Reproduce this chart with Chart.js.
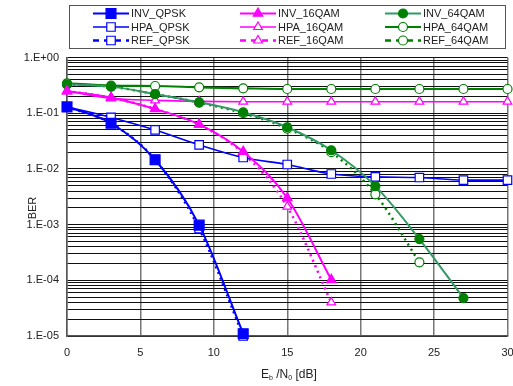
<!DOCTYPE html>
<html>
<head>
<meta charset="utf-8">
<script src="https://cdn.jsdelivr.net/npm/chart.js@4.4.0/dist/chart.umd.min.js"></script>
<style>
html, body { margin: 0; padding: 0; background: #fff; }
#wrap { width: 513px; height: 386px; }
</style>
</head>
<body>
<div id="wrap"><canvas id="berChart"></canvas></div>
<script>
// Eb/N0 grid (dB) and BER
const ebn0 = [0, 3, 6, 9, 12, 15, 18, 21, 24, 27, 30];
const invQpsk = [0.13, 0.066, 0.0146, 0.00098, 0.000011];
const hpaQpsk = [0.13, 0.084, 0.050, 0.027, 0.016, 0.012, 0.0081, 0.0072, 0.0070, 0.0063, 0.0063];
const refQpsk = [0.13, 0.066, 0.0146, 0.00085, 0.00001];
const inv16qam = [0.25, 0.19, 0.119, 0.063, 0.0204, 0.0030, 0.000102];
const hpa16qam = [0.25, 0.185, 0.17, 0.163, 0.161, 0.161, 0.161, 0.161, 0.161, 0.161, 0.161];
const ref16qam = [0.25, 0.19, 0.119, 0.062, 0.019, 0.0021, 0.00004];
const inv64qam = [0.33, 0.30, 0.22, 0.157, 0.104, 0.056, 0.0216, 0.0049, 0.00055, 0.000048];
const hpa64qam = [0.344, 0.312, 0.308, 0.292, 0.28, 0.272, 0.272, 0.272, 0.272, 0.272, 0.272];
const ref64qam = [0.33, 0.30, 0.22, 0.155, 0.10, 0.053, 0.020, 0.0035, 0.00021];
const xTicks = [0, 5, 10, 15, 20, 25, 30];

const FONT = '"Liberation Sans", Arial, sans-serif';
const BLUE = '#0000ff', PINK = '#ff00ff', GREEN = '#008000', SEA = '#339966';

function pts(vals) {
    return vals.map((v, i) => ({ x: ebn0[i], y: v }));
}

function series(label, vals, color, opts) {
    return Object.assign({
        label: label,
        data: pts(vals),
        borderColor: color,
        backgroundColor: color,
        pointBorderColor: color,
        pointBackgroundColor: color,
        borderWidth: 2,
        pointBorderWidth: 1.2,
        cubicInterpolationMode: 'monotone',
        clip: 8,
        fill: false
    }, opts);
}

const datasets = [
    series('INV_QPSK', invQpsk, BLUE, { pointStyle: 'rect', pointRadius: 7 }),
    series('INV_16QAM', inv16qam, PINK, { pointStyle: 'triangle', pointRadius: 5.5 }),
    series('INV_64QAM', inv64qam, SEA, { pointStyle: 'circle', pointRadius: 4.5, pointBorderColor: GREEN, pointBackgroundColor: GREEN }),
    series('HPA_QPSK', hpaQpsk, BLUE, { pointStyle: 'rect', pointRadius: 6, pointBackgroundColor: '#fff', borderWidth: 1.6 }),
    series('HPA_16QAM', hpa16qam, PINK, { pointStyle: 'triangle', pointRadius: 5, pointBackgroundColor: '#fff', borderWidth: 1.6 }),
    series('HPA_64QAM', hpa64qam, GREEN, { pointStyle: 'circle', pointRadius: 4.5, pointBackgroundColor: '#fff', borderWidth: 2.2 }),
    series('REF_QPSK', refQpsk, BLUE, { pointStyle: 'rect', pointRadius: 6, pointBackgroundColor: '#fff', borderDash: [2, 4], borderWidth: 2.5 }),
    series('REF_16QAM', ref16qam, PINK, { pointStyle: 'triangle', pointRadius: 5, pointBackgroundColor: '#fff', borderDash: [2, 4], borderWidth: 2.5 }),
    series('REF_64QAM', ref64qam, GREEN, { pointStyle: 'circle', pointRadius: 4.5, pointBackgroundColor: '#fff', borderDash: [2, 4], borderWidth: 2.5 })
];

function fmtExp(v) {
    const e = Math.log10(v);
    const n = Math.round(e);
    if (Math.abs(e - n) > 1e-6) return '';
    return '1.E' + (n < 0 ? '-' : '+') + String(Math.abs(n)).padStart(2, '0');
}

// 图例：三列三行，画线段+标记
const legendPlugin = {
    id: 'boxLegend',
    afterDraw(chart) {
        const ctx = chart.ctx;
        ctx.save();
        ctx.strokeStyle = '#555';
        ctx.lineWidth = 1;
        ctx.strokeRect(69.5, 5.5, 436, 43);
        const cols = [93, 240, 385];
        const rows = [13.5, 27, 40.5];
        ctx.font = '11px ' + FONT;
        ctx.textBaseline = 'middle';
        chart.data.datasets.forEach((ds, i) => {
            const x0 = cols[i % 3], y = rows[Math.floor(i / 3)];
            ctx.save();
            ctx.strokeStyle = ds.borderColor;
            ctx.lineWidth = ds.borderWidth;
            ctx.setLineDash(ds.borderDash ? [6, 5] : []);
            ctx.beginPath();
            ctx.moveTo(x0, y);
            ctx.lineTo(x0 + 36, y);
            ctx.stroke();
            ctx.setLineDash([]);
            ctx.fillStyle = ds.pointBackgroundColor;
            ctx.strokeStyle = ds.pointBorderColor;
            ctx.lineWidth = ds.pointBorderWidth;
            Chart.helpers.drawPoint(ctx, { pointStyle: ds.pointStyle, radius: ds.pointRadius, rotation: 0, borderWidth: ds.pointBorderWidth }, x0 + 18, y);
            ctx.restore();
            ctx.fillStyle = '#222';
            ctx.fillText(ds.label, x0 + 38, y + 0.5);
        });

        // 轴标题
        ctx.fillStyle = '#222';
        ctx.font = '12px ' + FONT;
        ctx.textBaseline = 'alphabetic';
        let x = 261, y = 378;
        const parts = [['E', 0], ['b', 1], [' /N', 0], ['0', 1], [' [dB]', 0]];
        parts.forEach(([t, sub]) => {
            ctx.font = (sub ? '7px ' : '12px ') + FONT;
            ctx.fillText(t, x, y + (sub ? 2 : 0));
            x += ctx.measureText(t).width;
        });
        ctx.font = '11px ' + FONT;
        ctx.translate(36, 208);
        ctx.rotate(-Math.PI / 2);
        ctx.textAlign = 'center';
        ctx.fillText('BER', 0, 0);
        ctx.restore();
    }
};

new Chart(document.getElementById('berChart'), {
    type: 'line',
    data: { datasets: datasets },
    plugins: [legendPlugin],
    options: {
        responsive: true,
        maintainAspectRatio: false,
        animation: false,
        layout: { autoPadding: false, padding: { top: 57.5, right: 5.5, left: 0, bottom: 0 } },
        plugins: { legend: { display: false }, tooltip: { enabled: false } },
        scales: {
            x: {
                type: 'linear',
                min: 0, max: 30,
                afterBuildTicks: (s) => { s.ticks = xTicks.map(v => ({ value: v })); },
                afterFit: (s) => { s.height = 50; s.paddingLeft = 0; s.paddingRight = 0; },
                ticks: { color: '#222', font: { family: FONT, size: 11 }, padding: 10, maxRotation: 0 },
                grid: { color: '#777', lineWidth: 1.5, drawTicks: false },
                border: { color: '#555', width: 1.5 }
            },
            y: {
                type: 'logarithmic',
                min: 1e-5, max: 1,
                afterBuildTicks: (s) => {
                    const t = [];
                    for (let e = -5; e <= 0; e++) {
                        for (let m = 1; m <= 9; m++) {
                            const v = m * Math.pow(10, e);
                            if (v > 1.0000001) break;
                            t.push({ value: v, major: m === 1 });
                        }
                    }
                    s.ticks = t;
                },
                afterFit: (s) => { s.width = 67; s.paddingTop = 0; s.paddingBottom = 0; },
                ticks: { autoSkip: false, color: '#222', font: { family: FONT, size: 11 }, padding: 8, callback: fmtExp },
                grid: { color: '#111', lineWidth: 1, drawTicks: false },
                border: { color: '#555', width: 1.5 }
            }
        }
    }
});
</script>
</body>
</html>
